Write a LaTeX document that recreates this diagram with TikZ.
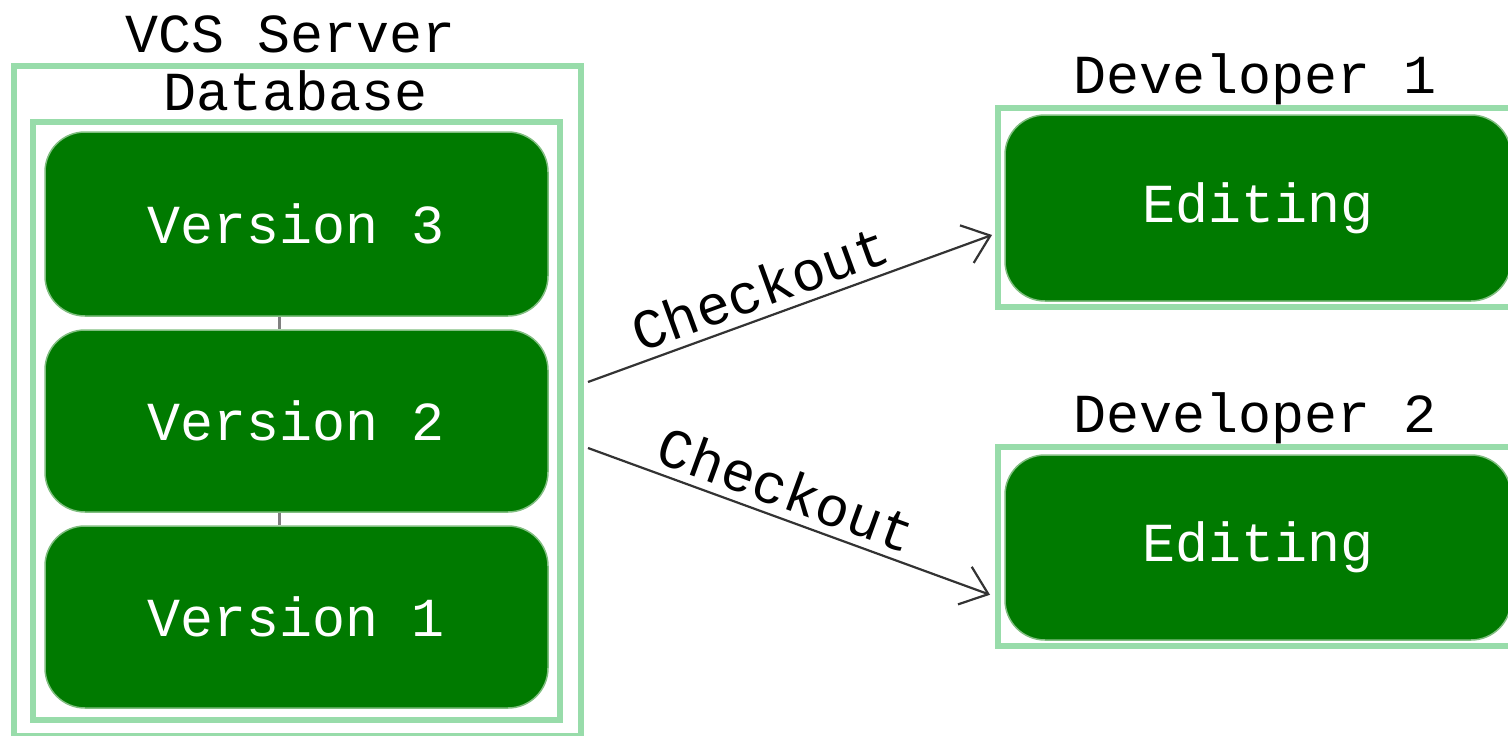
\documentclass[tikz,border=0pt]{standalone}
\usepackage{fontspec}
\setmonofont{Liberation Mono}
\usetikzlibrary{arrows.meta}
\definecolor{frameGreen}{HTML}{98DCAA}
\definecolor{nodeGreen}{HTML}{007A00}
\definecolor{nodeEdge}{HTML}{80BE80}
\definecolor{wire}{HTML}{333333}
\definecolor{link}{HTML}{808080}

\begin{document}
\begin{tikzpicture}[x=1pt,y=-1pt,
  frame/.style={draw=frameGreen, line width=6pt, inner sep=0pt},
  stage/.style={draw=nodeEdge, line width=1.5pt, fill=nodeGreen, rounded corners=40pt,
    text=white, font=\ttfamily\fontsize{55}{64}\selectfont, inner sep=0pt},
  title/.style={font=\ttfamily\fontsize{55}{64}\selectfont, inner sep=0pt, anchor=base},
  flow/.style={draw=wire, line width=2.2pt,
    -{Straight Barb[length=25pt,width=40pt,line width=2.2pt]}},
  flowlabel/.style={font=\ttfamily\fontsize{56}{64}\selectfont, sloped, above, inner sep=8pt},
  tick/.style={draw=link, line width=2.5pt}
]
\useasboundingbox (0,0) rectangle (1508,736);

% server side: outer frame, database frame and the version stack
\node[frame, minimum width=567pt, minimum height=670pt] (server) at (297.5,401) {};
\node[frame, minimum width=527pt, minimum height=598pt] (db) at (296,421) {};
\node[title] (servertitle) at (291,52) {VCS Server};
\node[title] (dbtitle) at (296,110) {Database};

\node[stage, minimum width=503pt, minimum height=184pt] (v3) at (296.5,224) {Version 3};
\node[stage, minimum width=503pt, minimum height=182pt] (v2) at (296.5,421) {Version 2};
\node[stage, minimum width=503pt, minimum height=182pt] (v1) at (296.5,617) {Version 1};

\draw[tick] ([xshift=-17pt]v3.south) -- ([xshift=-17pt]v2.north);
\draw[tick] ([xshift=-17pt]v2.south) -- ([xshift=-17pt]v1.north);

% developer working copies
\node[frame, minimum width=522pt, minimum height=199pt] (dev1) at (1259,207.5) {};
\node[frame, minimum width=522pt, minimum height=199pt] (dev2) at (1259,546.75) {};
\node[title] (dev1title) at (1255,93) {Developer 1};
\node[title] (dev2title) at (1255,432) {Developer 2};

\node[stage, minimum width=506pt, minimum height=186pt] (edit1) at (1258,208) {Editing};
\node[stage, minimum width=506pt, minimum height=185pt] (edit2) at (1258,547.5) {Editing};

% checkout arrows
\draw[flow] ([xshift=4pt,yshift=19pt]server.east) -- node[flowlabel, pos=0.45] {Checkout}
  ([xshift=-3pt,yshift=-27.5pt]dev1.west);
\draw[flow] ([xshift=4pt,yshift=-47pt]server.east) -- node[flowlabel, pos=0.47] {Checkout}
  ([xshift=-5pt,yshift=-48pt]dev2.west);
\end{tikzpicture}
\end{document}
